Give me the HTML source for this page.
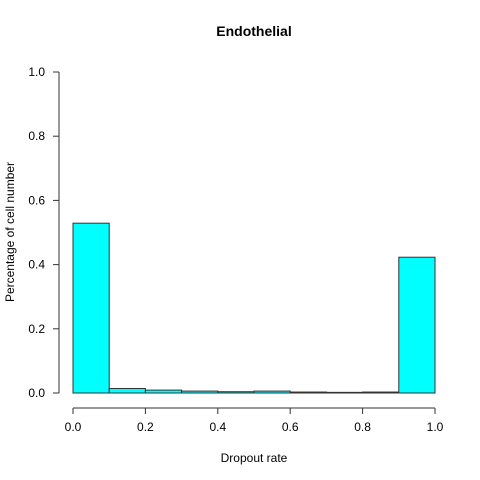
<!DOCTYPE html>
<html><head><meta charset="utf-8"><style>body{margin:0;background:#fff}svg{display:block;font-family:"Liberation Sans",sans-serif}</style></head>
<body>
<svg id="c" width="480" height="480">
<text x="254" y="36" text-anchor="middle" font-weight="bold" font-size="14">Endothelial</text>
<text x="254" y="462" text-anchor="middle" font-size="12">Dropout rate</text>
<text transform="translate(14,232) rotate(-90)" text-anchor="middle" font-size="12">Percentage of cell number</text>
<g id="bars"></g><g id="ax"></g>
</svg>
<script>
const binStarts=[0,0.1,0.2,0.3,0.4,0.5,0.6,0.7,0.8,0.9];
const values=[0.529,0.014,0.009,0.006,0.004,0.006,0.003,0.002,0.003,0.423];
const xTicks=[0,0.2,0.4,0.6,0.8,1.0];
const yTicks=[0,0.2,0.4,0.6,0.8,1.0];
const NS="http://www.w3.org/2000/svg";
const X=v=>73+v*362, Y=v=>393-v*321;
const bars=document.getElementById('bars'), ax=document.getElementById('ax');
function mk(tag,a,p){const e=document.createElementNS(NS,tag);for(const k in a)e.setAttribute(k,a[k]);p.appendChild(e);return e;}
binStarts.forEach((s,i)=>{
 const r=mk('rect',{x:X(s),y:Y(values[i]),width:X(s+0.1)-X(s),height:Y(0)-Y(values[i]),fill:'#00ffff',stroke:'#333','stroke-width':1},bars);
 
 
});
const xl=mk('line',{x1:X(0),x2:X(1),y1:408,y2:408,stroke:'#333'},ax);


xTicks.forEach(t=>{
 mk('line',{x1:X(t),x2:X(t),y1:408,y2:414,stroke:'#333'},ax);
 const tx=mk('text',{x:X(t),y:431,'text-anchor':'middle','font-size':12},ax);tx.textContent=t.toFixed(1);
 
 
});
const yl=mk('line',{x1:59,x2:59,y1:Y(0),y2:Y(1),stroke:'#333'},ax);


yTicks.forEach(t=>{
 mk('line',{x1:53,x2:59,y1:Y(t),y2:Y(t),stroke:'#333'},ax);
 const tx=mk('text',{x:45,y:Y(t)+4,'text-anchor':'end','font-size':12},ax);tx.textContent=t.toFixed(1);
 
 
});
</script>
</body></html>
